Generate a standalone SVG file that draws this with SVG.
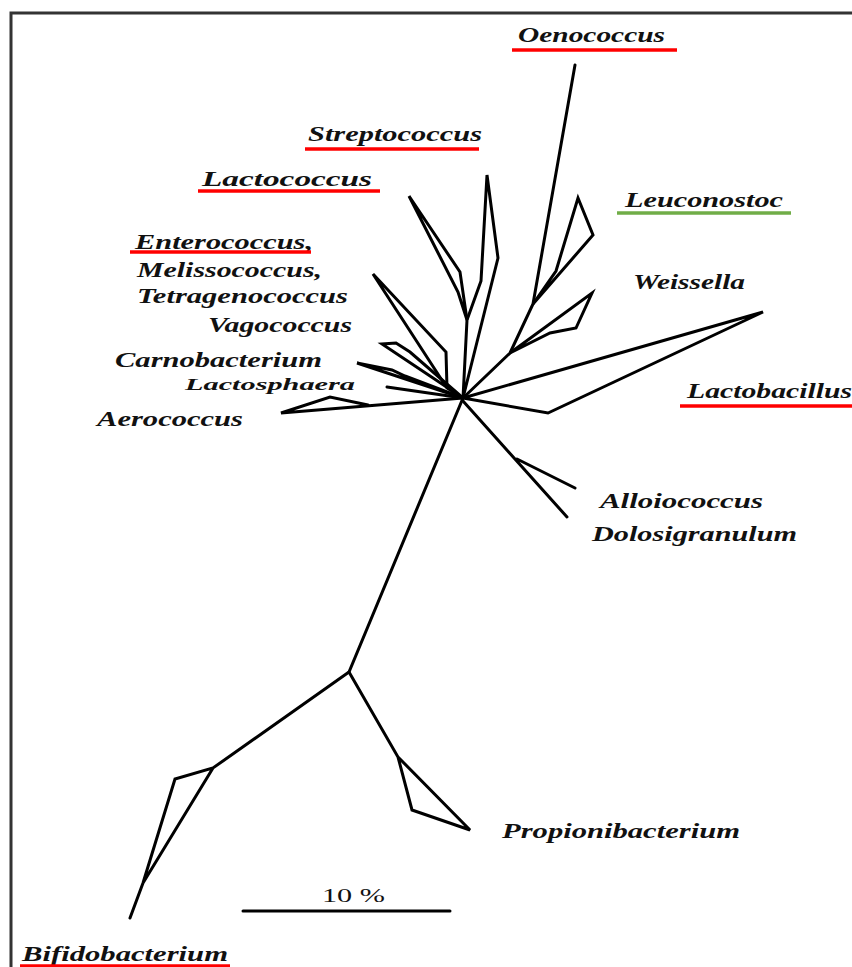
<svg xmlns="http://www.w3.org/2000/svg" width="852" height="967" viewBox="0 0 852 967">
<style>
.lbl{font-family:"Liberation Serif","Times New Roman",serif;font-weight:bold;font-style:italic;font-size:22px;fill:#111}
.sm{font-size:17px}
.br{fill:none;stroke:#000;stroke-width:3;stroke-linejoin:miter;stroke-linecap:round}
.ur{stroke:#ff0000;stroke-width:3.5}
.ug{stroke:#70ad47;stroke-width:3.5}
</style>
<rect width="852" height="967" fill="#fff"/>
<path d="M11,967 V13 H852" fill="none" stroke="#333" stroke-width="3"/>
<g id="connectors">
<path class="br" d="M463,398 L349,672 L213,768 L175,779 L143,883 L130,918 M213,768 L143,883"/>
<path class="br" d="M349,672 L398,757 L412,810 L470,830 L398,757"/>
<path class="br" d="M463,398 L510,353 L533,304 L575,65"/>
<path class="br" d="M533,304 L556,271 L578,198 L593,235 Z"/>
<path class="br" d="M510,353 L550,333 L576,328 L592,293 Z"/>
<path class="br" d="M463,398 L467,320 L481,281 L487,175 L498,258 Z"/>
<path class="br" d="M467,320 L458,292 L409,196 L460,272 Z"/>
<path class="br" d="M463,398 L763,312 L548,413 Z"/>
<path class="br" d="M463,401 L567,517 M517,459 L575,488"/>
<path class="br" d="M463,398 L447,388 L373,274 L446,352 L447,388"/>
<path class="br" d="M463,398 L382,344 L396,343 L410,352 Z"/>
<path class="br" d="M463,398 L357,363 L392,370 L405,376 Z"/>
<path class="br" d="M463,398 L387,387"/>
<path class="br" d="M463,398 L281,413 L330,397 L368,405"/>
<path class="br" d="M243,911 H450"/>
</g>
<g id="scale"><text x="322" y="902" font-family="Liberation Serif,serif" font-size="19" textLength="63" lengthAdjust="spacingAndGlyphs" fill="#111">10 %</text></g>
<g id="oenococcus"><text class="lbl" x="518" y="42" textLength="147" lengthAdjust="spacingAndGlyphs">Oenococcus</text><line class="ur" x1="512" y1="50" x2="677" y2="50"/></g>
<g id="streptococcus"><text class="lbl" x="308" y="141" textLength="174" lengthAdjust="spacingAndGlyphs">Streptococcus</text><line class="ur" x1="305" y1="149" x2="479" y2="149"/></g>
<g id="lactococcus"><text class="lbl" x="202" y="186" textLength="170" lengthAdjust="spacingAndGlyphs">Lactococcus</text><line class="ur" x1="198" y1="191" x2="380" y2="191"/></g>
<g id="leuconostoc"><text class="lbl" x="625" y="207" textLength="158" lengthAdjust="spacingAndGlyphs">Leuconostoc</text><line class="ug" x1="617" y1="213" x2="791" y2="213"/></g>
<g id="weissella"><text class="lbl" x="633" y="289" textLength="112" lengthAdjust="spacingAndGlyphs">Weissella</text></g>
<g id="enterococcus"><text class="lbl" x="135" y="249" textLength="178" lengthAdjust="spacingAndGlyphs">Enterococcus,</text><line class="ur" x1="130" y1="252" x2="311" y2="252"/></g>
<g id="melissococcus"><text class="lbl" x="137" y="277" textLength="185" lengthAdjust="spacingAndGlyphs">Melissococcus,</text></g>
<g id="tetragenococcus"><text class="lbl" x="137" y="303" textLength="211" lengthAdjust="spacingAndGlyphs">Tetragenococcus</text></g>
<g id="vagococcus"><text class="lbl" x="208" y="332" textLength="144" lengthAdjust="spacingAndGlyphs">Vagococcus</text></g>
<g id="carnobacterium"><text class="lbl" x="115" y="367" textLength="207" lengthAdjust="spacingAndGlyphs">Carnobacterium</text></g>
<g id="lactosphaera"><text class="lbl sm" x="185" y="390" textLength="170" lengthAdjust="spacingAndGlyphs">Lactosphaera</text></g>
<g id="aerococcus"><text class="lbl" x="97" y="426" textLength="146" lengthAdjust="spacingAndGlyphs">Aerococcus</text></g>
<g id="lactobacillus"><text class="lbl" x="687" y="398" textLength="165" lengthAdjust="spacingAndGlyphs">Lactobacillus</text><line class="ur" x1="680" y1="406" x2="852" y2="406"/></g>
<g id="alloiococcus"><text class="lbl" x="600" y="508" textLength="163" lengthAdjust="spacingAndGlyphs">Alloiococcus</text></g>
<g id="dolosigranulum"><text class="lbl" x="592" y="541" textLength="205" lengthAdjust="spacingAndGlyphs">Dolosigranulum</text></g>
<g id="propionibacterium"><text class="lbl" x="502" y="838" textLength="238" lengthAdjust="spacingAndGlyphs">Propionibacterium</text></g>
<g id="bifidobacterium"><text class="lbl" x="22" y="961" textLength="206" lengthAdjust="spacingAndGlyphs">Bifidobacterium</text><line class="ur" x1="20" y1="966" x2="230" y2="966"/></g>
</svg>
